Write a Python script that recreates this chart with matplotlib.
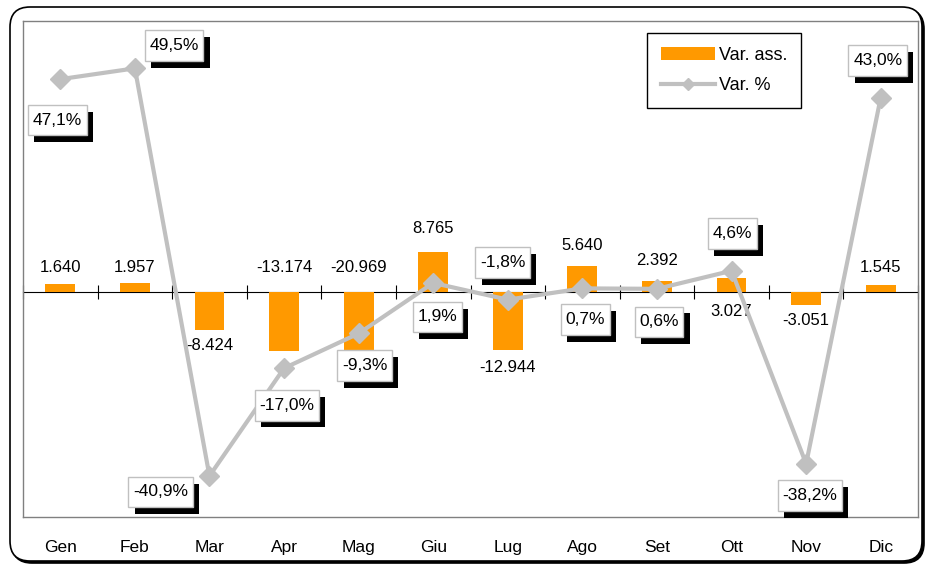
import matplotlib
matplotlib.use("Agg")
import matplotlib.pyplot as plt
import matplotlib.patheffects as pe
from matplotlib.path import Path
from matplotlib.patches import FancyBboxPatch

plt.rcParams["font.family"] = ["Liberation Sans", "DejaVu Sans"]

months = ["Gen", "Feb", "Mar", "Apr", "Mag", "Giu", "Lug", "Ago", "Set", "Ott", "Nov", "Dic"]
var_ass = [1640, 1957, -8424, -13174, -20969, 8765, -12944, 5640, 2392, 3027, -3051, 1545]
var_pct = [47.1, 49.5, -40.9, -17.0, -9.3, 1.9, -1.8, 0.7, 0.6, 4.6, -38.2, 43.0]

# label offsets in pixels (dx, dy down) relative to the mark, as placed in the original
bar_label_dy = [-17, -15, 16, -83, -119, -24, 18, -21, -20, 34, 15, -17]
pct_label_off = [(-3, 41), (39, -23), (-49, 16), (3, 37), (6, 32), (4, 34),
                 (-5, -37), (3, 31), (2, 33), (1, -37), (4, 32), (-3, -37)]

BAR_COLOR = "#ff9900"
LINE_COLOR = "#c0c0c0"


def label_box(x0, y0, width, height, mutation_size):
    # plain rectangle, wider padding top/bottom than left/right (Excel data label look)
    px = 0.27 * mutation_size
    py = 0.45 * mutation_size
    x0, y0 = x0 - px, y0 - py
    x1, y1 = x0 + width + 2 * px, y0 + height + 2 * py
    return Path([(x0, y0), (x1, y0), (x1, y1), (x0, y1), (x0, y0)], closed=True)


fig = plt.figure(figsize=(9.26, 5.64), dpi=100, facecolor="white")

# outer rounded frame with a small shadow
shadow = FancyBboxPatch((0.12, 0.01), 9.12, 5.54, boxstyle="round,pad=0,rounding_size=0.2",
                        transform=fig.dpi_scale_trans, fc="k", ec="k", lw=1.2, zorder=-2)
frame = FancyBboxPatch((0.10, 0.03), 9.12, 5.54, boxstyle="round,pad=0,rounding_size=0.2",
                       transform=fig.dpi_scale_trans, fc="w", ec="k", lw=1.2, zorder=-1)
fig.add_artist(shadow)
fig.add_artist(frame)

ax = fig.add_axes([23 / 926, 47 / 564, 895 / 926, 496 / 564])
ax2 = ax.twinx()

x = list(range(len(months)))
bars = ax.bar(x, var_ass, width=0.4, color=BAR_COLOR, zorder=2)
ax.set_xlim(-0.5, 11.5)
ax.set_ylim(-50000, 60000)
ax2.set_ylim(-50, 60)
ax.set_yticks([])
ax2.set_yticks([])

ax.set_xticks(x, months)
ax.tick_params(axis="x", length=0, pad=16.5, labelsize=12.5)

for s in ax.spines.values():
    s.set_color("#808080")
    s.set_linewidth(1)
for s in ax2.spines.values():
    s.set_visible(False)

# category axis at zero with boundary ticks
zero_frac = 50000 / 110000
sec = ax.secondary_xaxis(zero_frac)
sec.set_xticks([i + 0.5 for i in range(-1, 12)])
sec.tick_params(direction="inout", length=9.5, width=0.8, color="k",
                labelbottom=False, labeltop=False)
for s in sec.spines.values():
    s.set_color("k")
    s.set_linewidth(0.8)

for xi, v, dy in zip(x, var_ass, bar_label_dy):
    ax.annotate(f"{v:,}".replace(",", "."), (xi, v), xytext=(0, -dy),
                textcoords="offset pixels", ha="center", va="center", fontsize=12)

line, = ax2.plot(x, var_pct, color=LINE_COLOR, lw=3, marker="D", ms=10,
                 mfc=LINE_COLOR, mec=LINE_COLOR, zorder=3)

for xi, p, (dx, dy) in zip(x, var_pct, pct_label_off):
    ax2.annotate(f"{p:.1f}%".replace(".", ","), (xi, p), xytext=(dx, -dy),
                 textcoords="offset pixels", ha="center", va="center", fontsize=12.5,
                 zorder=5,
                 bbox=dict(boxstyle=label_box, fc="white", ec=LINE_COLOR, lw=1,
                           path_effects=[pe.withSimplePatchShadow(offset=(4.5, -5), shadow_rgbFace="k", alpha=1)]))

leg = ax2.legend([bars, line], ["Var. ass.", "Var. %"], loc="upper left",
                 bbox_to_anchor=(647 / 926, 1 - 33 / 564), bbox_transform=fig.transFigure,
                 borderaxespad=0, fancybox=False, framealpha=1, edgecolor="k",
                 fontsize=13, handlelength=3.0, handletextpad=0.25, borderpad=0.75,
                 labelspacing=0.75, markerscale=0.65)
leg.get_frame().set_linewidth(1)
leg.set_zorder(6)

fig.savefig("out.png", dpi=100, facecolor="white")
